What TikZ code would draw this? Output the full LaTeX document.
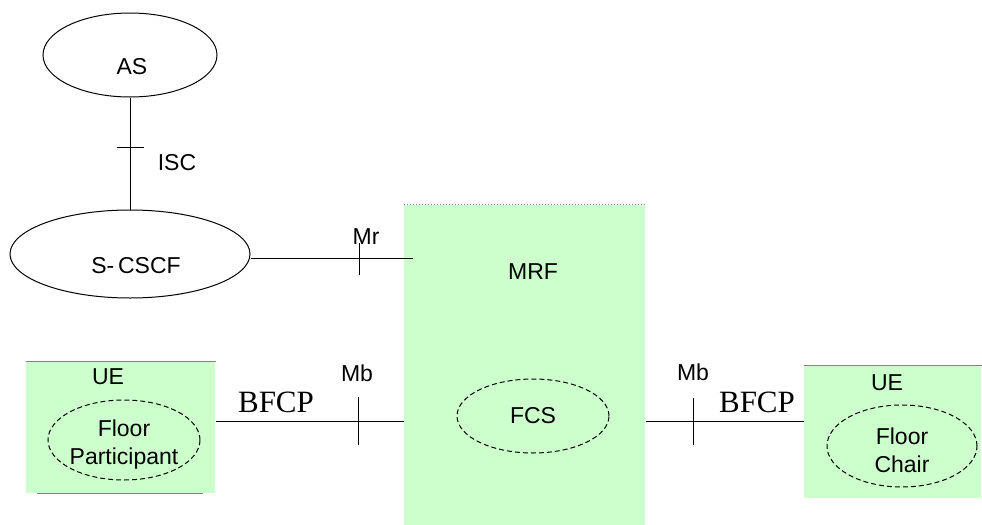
\documentclass[tikz,border=0pt]{standalone}
\usepackage{fontspec}
\setmainfont{Liberation Sans}
\newfontfamily\timesfont{Liberation Serif}
\usetikzlibrary{shapes.geometric}
\begin{document}
\begin{tikzpicture}[x=0.5pt, y=-0.5pt, line width=0.5pt]
            \useasboundingbox (0,0) rectangle (982,525);
            \definecolor{boxcolor}{RGB}{204, 255, 204}
            \definecolor{edgecolor}{RGB}{128, 128, 128}
            \tikzset{
                entity/.style={draw, shape=ellipse, inner sep=0pt},
                func/.style={draw, dash pattern=on 2.5pt off 1.5pt, shape=ellipse, inner sep=0pt},
                netbox/.style={shape=rectangle, fill=boxcolor, inner sep=0pt},
                lbl/.style={font=\fontsize{11.5}{14}\selectfont, align=center},
                proto/.style={font=\timesfont\fontsize{15.5}{18}\selectfont},
            }
            % boxes
            \node[netbox, minimum width=120.5pt, minimum height=160pt] (MRF) at (524.5, 365) {};
            \node[netbox, minimum width=94.5pt, minimum height=65.5pt] (UE1) at (120.5, 427.5) {};
            \node[netbox, minimum width=88.5pt, minimum height=66pt] (UE2) at (892.5, 432) {};
            \draw[edgecolor, densely dotted] (MRF.north west) -- (MRF.north east);
            \draw[edgecolor] (UE1.north west) -- (UE1.north east);
            \draw[edgecolor] (37, 493) -- (203, 493);
            \draw[edgecolor] (UE2.north west) -- (UE2.north east);
            % ellipses
            \node[entity, minimum width=87pt, minimum height=42pt] (AS) at (130, 55) {};
            \node[lbl] (AStext) at (132, 67) {AS};
            \node[entity, minimum width=120pt, minimum height=44pt] (SCSCF) at (130, 254) {};
            \node[lbl] (SCSCFtext) at (136, 266) {S-\,CSCF};
            \node[func, minimum width=76pt, minimum height=37pt] (FCS) at (533, 416) {};
            \node[lbl] (FCStext) at (533, 416) {FCS};
            \node[func, minimum width=76pt, minimum height=40pt] (FP) at (124, 440) {};
            \node[lbl] (FPtext) at (124, 445) {Floor\\Participant};
            \node[func, minimum width=75pt, minimum height=41pt] (FC) at (902, 446) {};
            \node[lbl] (FCtext) at (902, 450) {Floor\\Chair};
            \node[lbl] (MRFtext) at (533, 272) {MRF};
            \node[lbl] (UE1text) at (108, 377) {UE};
            \node[lbl] (UE2text) at (887, 383) {UE};
            % reference points
            \coordinate (isc) at (130, 147);
            \coordinate (mr) at (359, 258);
            \coordinate (mrend) at (413, 258);
            \coordinate (mbL) at (358, 421);
            \coordinate (mbR) at (693, 421);
            % connectors
            \draw (AS.south) -- (SCSCF.north);
            \draw (SCSCF.east |- mr) -- (mrend);
            \draw (UE1.east |- mbL) -- (MRF.west |- mbL);
            \draw (MRF.east |- mbR) -- (UE2.west |- mbR);
            % ticks
            \draw (isc) ++(-13.5, 0) -- ++(27, 0);
            \draw (mr) ++(0, -15) -- ++(0, 32);
            \draw (mbL) ++(0, -24) -- ++(0, 48);
            \draw (mbR) ++(0, -23) -- ++(0, 47);
            % interface labels
            \node[lbl] (ISC) at (177, 163) {ISC};
            \node[lbl] (Mr) at (366, 237) {Mr};
            \node[lbl] (MbL) at (357, 373) {Mb};
            \node[lbl] (MbR) at (693, 372) {Mb};
            \node[proto] (BFCPL) at (276, 402) {BFCP};
            \node[proto] (BFCPR) at (757, 402) {BFCP};
\end{tikzpicture}
\end{document}
